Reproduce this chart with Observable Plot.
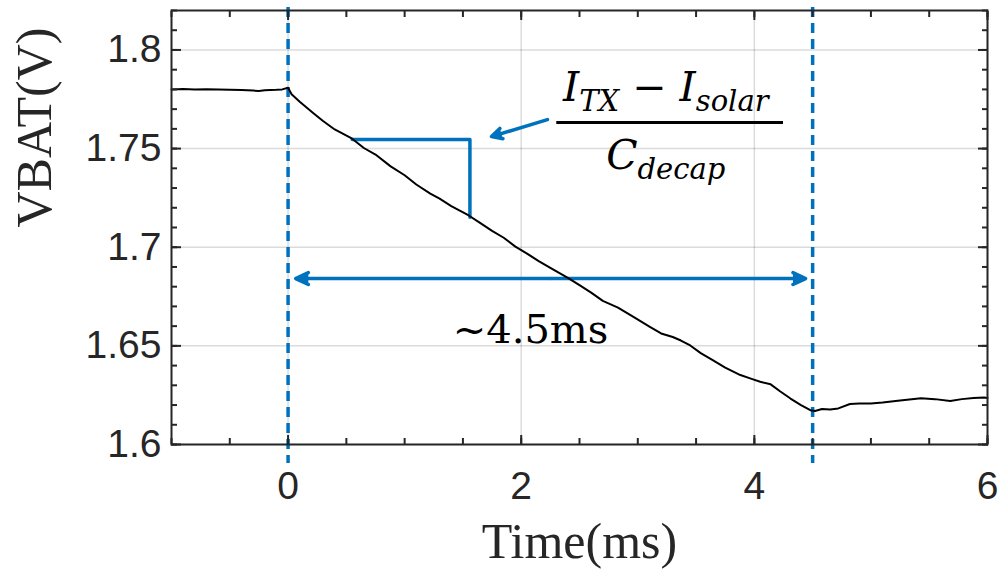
<!DOCTYPE html>
<html>
<head>
<meta charset="utf-8">
<script src="https://cdn.jsdelivr.net/npm/d3@7"></script>
<script src="https://cdn.jsdelivr.net/npm/@observablehq/plot@0.6"></script>
<style>
  body { margin: 0; background: #ffffff; }
  #chart svg { display: block; }
</style>
</head>
<body>
<div id="chart"></div>
<script>
// ---- Data ----
const time = [
  -1.00, -0.90, -0.80, -0.70, -0.60, -0.50, -0.40, -0.30, -0.25, -0.20, -0.10, -0.05,
  0.00, 0.03, 0.10, 0.22, 0.30, 0.40, 0.55, 0.65, 0.75, 0.88, 1.00, 1.10, 1.22, 1.30,
  1.40, 1.55, 1.65, 1.75, 1.85, 1.95, 2.05, 2.15, 2.25, 2.40, 2.50, 2.60, 2.70, 2.83,
  2.97, 3.10, 3.20, 3.30, 3.37, 3.45, 3.54, 3.65, 3.75, 3.88, 3.97, 4.05, 4.14, 4.22,
  4.31, 4.40, 4.48, 4.52, 4.58, 4.65, 4.72, 4.82, 4.90, 5.00, 5.10, 5.25, 5.35, 5.43,
  5.55, 5.68, 5.78, 5.88, 5.97, 6.00
];
const vbat = [
  1.7800, 1.7802, 1.7799, 1.7801, 1.7799, 1.7798, 1.7797, 1.7794, 1.7792, 1.7796, 1.7798, 1.7800,
  1.7808, 1.7775, 1.7737, 1.7678, 1.7640, 1.7597, 1.7550, 1.7503, 1.7470, 1.7410, 1.7365, 1.7318, 1.7272, 1.7246,
  1.7208, 1.7161, 1.7122, 1.7083, 1.7048, 1.7003, 1.6968, 1.6930, 1.6895, 1.6845, 1.6808, 1.6770, 1.6728, 1.6694,
  1.6644, 1.6598, 1.6563, 1.6545, 1.6527, 1.6502, 1.6463, 1.6425, 1.6390, 1.6352, 1.6334, 1.6318, 1.6305, 1.6270,
  1.6233, 1.6200, 1.6174, 1.6170, 1.6180, 1.6177, 1.6183, 1.6205, 1.6208, 1.6208, 1.6213, 1.6223, 1.6229, 1.6234,
  1.6230, 1.6220, 1.6230, 1.6236, 1.6238, 1.6236
];

const markerTimes = [0, 4.5];

const xMajorTicks = [0, 2, 4, 6];
const xTickLabels = ["0", "2", "4", "6"];
const xMinorTicks = [-1, -0.5, 0, 0.5, 1, 1.5, 2, 2.5, 3, 3.5, 4, 4.5, 5, 5.5, 6];
const yMajorTicks = [1.6, 1.65, 1.7, 1.75, 1.8];
const yTickLabels = ["1.6", "1.65", "1.7", "1.75", "1.8"];
const yMinorTicks = [1.60, 1.61, 1.62, 1.63, 1.64, 1.65, 1.66, 1.67, 1.68, 1.69, 1.70,
                     1.71, 1.72, 1.73, 1.74, 1.75, 1.76, 1.77, 1.78, 1.79, 1.80, 1.81, 1.82];

// slope triangle (time, vbat)
const slopeTime = [0.55, 1.56, 1.56];
const slopeVbat = [1.7546, 1.7546, 1.7152];

// pointer arrow towards the slope triangle
const pointerArrow = [{t1: 2.225, v1: 1.7647, t2: 1.745, v2: 1.7561}];

// duration double arrow (drawn as two halves from its middle)
const spanMid = 2.25, spanLeft = 0.065, spanRight = 4.44, spanV = 1.6841;

// formula and duration label
const fracNumerator = "I_TX − I_solar";
const fracDenominator = "C_decap";
const fracCenterT = 3.24;
const fracNumV = 1.7739, fracBarV = 1.7632, fracDenV = 1.7399;
const fracBarT1 = 2.305, fracBarT2 = 4.25;
const durationLabel = "~4.5ms";
const durationT = 2.08, durationV = 1.6512;

const xLabel = "Time(ms)";
const yLabel = "VBAT(V)";

// ---- build ----
const trace = time.map((t, i) => ({t, v: vbat[i]}));
const slope = slopeTime.map((t, i) => ({t, v: slopeVbat[i]}));
const spanArrows = [
  {t1: spanMid, t2: spanLeft, v: spanV},
  {t1: spanMid, t2: spanRight, v: spanV}
];

const blue = "#0072BD";
const axisColor = "#262626";
const sans = "'Liberation Sans', Arial, sans-serif";
const serif = "'Liberation Serif', 'Times New Roman', serif";
const mathSerif = "'DejaVu Serif', serif";

const plot = Plot.plot({
  width: 999,
  height: 569,
  marginLeft: 171,
  marginRight: 12,
  marginTop: 10,
  marginBottom: 125,
  style: {fontFamily: sans, color: axisColor, background: "#ffffff", overflow: "visible"},
  x: {domain: [-1, 6], label: null},
  y: {domain: [1.6, 1.82], label: null},
  marks: [
    Plot.gridX(xMajorTicks, {stroke: "#000", strokeOpacity: 0.14, strokeWidth: 1.5}),
    Plot.gridY(yMajorTicks, {stroke: "#000", strokeOpacity: 0.14, strokeWidth: 1.5}),
    Plot.ruleX(markerTimes, {stroke: blue, strokeWidth: 3.5, strokeDasharray: "10,6", insetBottom: -19, insetTop: -3}),
    Plot.line(slope, {x: "t", y: "v", stroke: blue, strokeWidth: 3.5}),
    Plot.arrow(pointerArrow, {x1: "t1", y1: "v1", x2: "t2", y2: "v2", stroke: blue, fill: blue,
      strokeWidth: 3.5, headLength: 5, headAngle: 55}),
    Plot.arrow(spanArrows, {x1: "t1", x2: "t2", y1: "v", y2: "v", stroke: blue, fill: blue,
      strokeWidth: 3.5, headLength: 6, headAngle: 50}),
    Plot.line(trace, {x: "t", y: "v", stroke: "#000", strokeWidth: 2}),
    // formula
    Plot.text([fracNumerator], {x: () => fracCenterT, y: () => fracNumV, text: d => d, lineAnchor: "bottom",
      textAnchor: "middle", fontFamily: mathSerif, fontStyle: "italic", fontSize: 41, fill: "#000"}),
    Plot.ruleY([fracBarV], {x1: fracBarT1, x2: fracBarT2, stroke: "#000", strokeWidth: 3}),
    Plot.text([fracDenominator], {x: () => fracCenterT, y: () => fracDenV, text: d => d, lineAnchor: "bottom",
      textAnchor: "middle", fontFamily: mathSerif, fontStyle: "italic", fontSize: 41, fill: "#000"}),
    Plot.text([durationLabel], {x: () => durationT, y: () => durationV, text: d => d, lineAnchor: "bottom",
      textAnchor: "middle", fontFamily: mathSerif, fontSize: 40, fill: "#000"}),
    // frame and inward ticks
    Plot.frame({stroke: axisColor, strokeWidth: 2}),
    Plot.axisX(xMinorTicks, {anchor: "bottom", tickSize: -6, tickFormat: () => "", label: null, stroke: axisColor, strokeWidth: 2}),
    Plot.axisX(xMinorTicks, {anchor: "top", tickSize: -6, tickFormat: () => "", label: null, stroke: axisColor, strokeWidth: 2}),
    Plot.axisX(xMajorTicks, {anchor: "bottom", tickSize: -9, tickFormat: () => "", label: null, stroke: axisColor, strokeWidth: 2}),
    Plot.axisX(xMajorTicks, {anchor: "top", tickSize: -9, tickFormat: () => "", label: null, stroke: axisColor, strokeWidth: 2}),
    Plot.axisY(yMinorTicks, {anchor: "left", tickSize: -6, tickFormat: () => "", label: null, stroke: axisColor, strokeWidth: 2}),
    Plot.axisY(yMinorTicks, {anchor: "right", tickSize: -6, tickFormat: () => "", label: null, stroke: axisColor, strokeWidth: 2}),
    Plot.axisY(yMajorTicks, {anchor: "left", tickSize: -10, tickFormat: () => "", label: null, stroke: axisColor, strokeWidth: 2}),
    Plot.axisY(yMajorTicks, {anchor: "right", tickSize: -10, tickFormat: () => "", label: null, stroke: axisColor, strokeWidth: 2}),
    // tick labels
    Plot.axisX(xMajorTicks, {anchor: "bottom", tickSize: 0, tickPadding: 27, label: null,
      tickFormat: (d, i) => xTickLabels[i], fontSize: 39, fontFamily: sans, fill: axisColor}),
    Plot.axisY(yMajorTicks, {anchor: "left", tickSize: 0, tickPadding: 10, label: null,
      tickFormat: (d, i) => yTickLabels[i], fontSize: 39, fontFamily: sans, fill: axisColor}),
    // axis titles
    Plot.text([xLabel], {frameAnchor: "bottom", dy: 113, lineAnchor: "bottom", text: d => d,
      fontFamily: serif, fontSize: 50, fill: axisColor}),
    Plot.text([yLabel], {frameAnchor: "left", dx: -121, rotate: -90, lineAnchor: "bottom", text: d => d,
      fontFamily: serif, fontSize: 50, fill: axisColor})
  ]
});

// turn "_xxx" segments into subscripts
const subShift = 10, subSize = 29;
d3.select(plot).selectAll("text").each(function () {
  const s = this.textContent;
  if (!s || !s.includes("_")) return;
  const parts = s.split(/(_[A-Za-z]+)/).filter(p => p.length);
  const el = d3.select(this);
  el.text(null);
  let shifted = false;
  for (const p of parts) {
    if (p.startsWith("_")) {
      el.append("tspan").attr("dy", subShift).attr("font-size", subSize).text(p.slice(1));
      shifted = true;
    } else {
      const ts = el.append("tspan").text(p);
      if (shifted) { ts.attr("dy", -subShift); shifted = false; }
    }
  }
});
d3.select(plot).selectAll("text").attr("xml:space", "preserve");

document.getElementById("chart").append(plot);
</script>
</body>
</html>
